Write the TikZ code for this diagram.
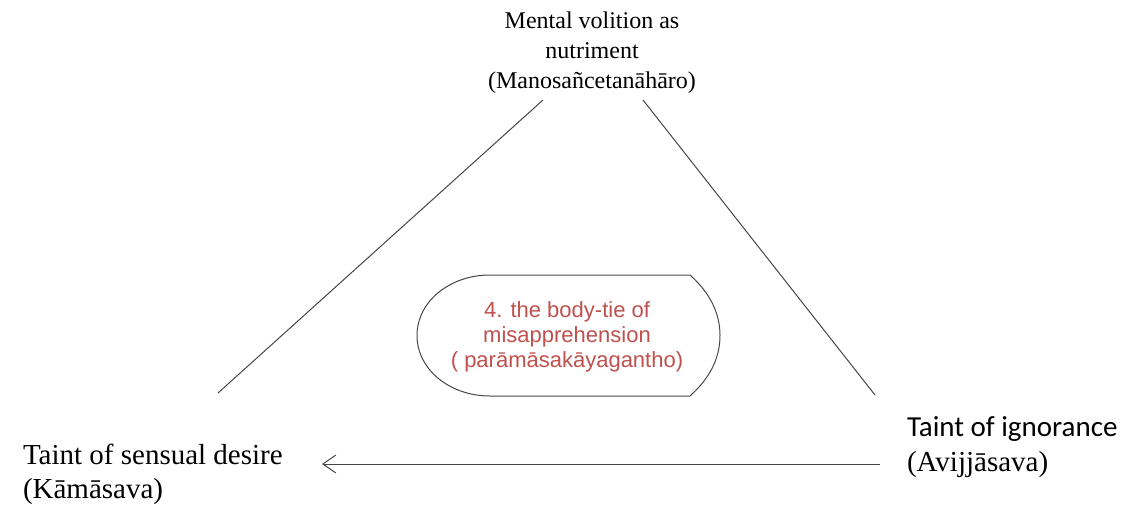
\documentclass[tikz,border=0pt]{standalone}
\usepackage{fontspec}
\setmainfont{Liberation Serif}
\newfontfamily\tiesans{Liberation Sans}
\newfontfamily\labelsans{Carlito}
\usetikzlibrary{arrows.meta}
\definecolor{tiered}{RGB}{192,80,77}
\definecolor{edgegray}{RGB}{70,70,70}
\begin{document}
\begin{tikzpicture}[x=1pt,y=-1pt,
  txt/.style={inner sep=0pt, outer sep=0pt},
  edge/.style={draw=edgegray, line width=1pt},
  tieshape/.style={draw=edgegray, line width=1pt}]
\useasboundingbox (0,0) rectangle (1139,506);

% corner labels
\node[txt, anchor=north, align=center, font=\fontsize{24}{30}\selectfont] (food) at (592,11.5)
  {Mental volition as\\ nutriment\\ (Manosañcetanāhāro)};
\node[txt, anchor=north west, align=left, font=\fontsize{29}{34}\selectfont] (kama) at (23,444)
  {Taint of sensual desire\\ (Kāmāsava)};
\node[txt, anchor=north west, align=left, font=\fontsize{29}{35}\selectfont] (avijja) at (907,417)
  {{\labelsans Taint of ignorance}\\ (Avijjāsava)};

% connector end points
\coordinate (ltop) at (543,100);
\coordinate (lbot) at (218,393);
\coordinate (rtop) at (643,100);
\coordinate (rbot) at (875,395);
\coordinate (afrom) at (880,464);
\coordinate (ato) at (322,464);

\draw[edge] (ltop) -- (lbot);
\draw[edge] (rtop) -- (rbot);
\draw[edge, -{Straight Barb[length=13pt,width=18pt,line width=1pt]}] (afrom) -- (ato);

% central body-tie shape
\draw[tieshape] (490,275) -- (690,275)
  .. controls (710,293) and (720,313) .. (720,335.5)
  .. controls (720,358) and (710,378) .. (690,396)
  -- (490,396)
  .. controls (449.7,396) and (417,369.4) .. (417,335.5)
  .. controls (417,301.6) and (449.7,275) .. cycle;
\node[txt, anchor=north, align=center, text=tiered, font=\tiesans\fontsize{22}{25}\selectfont] (tie) at (567,302)
  {4. the body-tie of\\ misapprehension\\ ( parāmāsakāyagantho)};
\end{tikzpicture}
\end{document}
